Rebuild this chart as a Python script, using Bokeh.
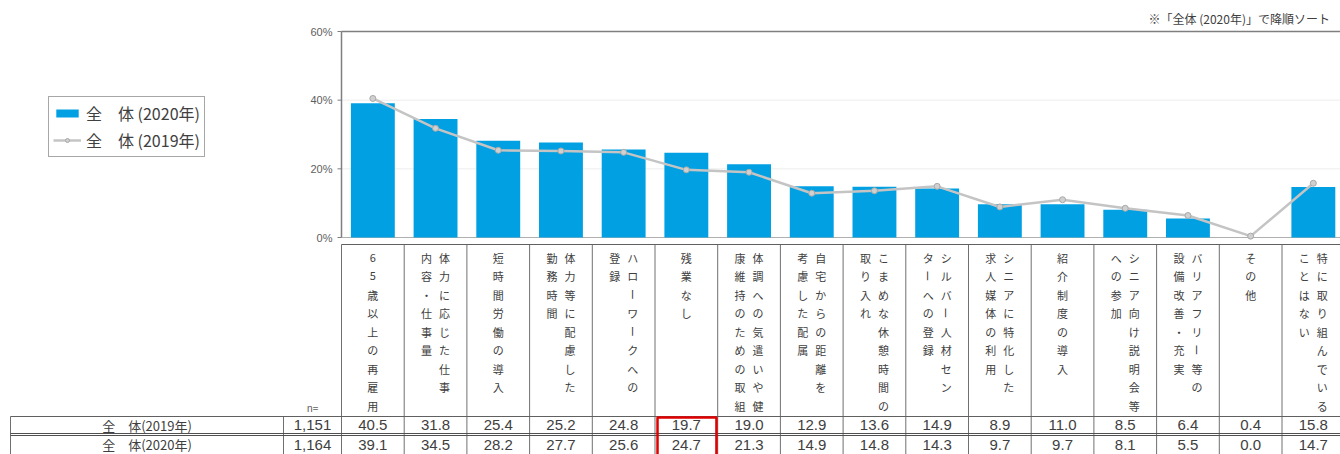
import math
from bokeh.plotting import figure
from bokeh.models import Range1d, Legend, LegendItem
from bokeh.layouts import column
from bokeh.core.properties import value
from bokeh.embed import file_html
from bokeh.resources import INLINE

# ---------------- data ----------------
categories = [
    "65歳以上の再雇用", "体力に応じた仕事内容・仕事量", "短時間労働の導入", "体力等に配慮した勤務時間",
    "ハローワークへの登録", "残業なし", "体調への気遣いや健康維持のための取組", "自宅からの距離を考慮した配属",
    "こまめな休憩時間の取り入れ", "シルバー人材センターへの登録", "シニアに特化した求人媒体の利用", "紹介制度の導入",
    "シニア向け説明会等への参加", "バリアフリー等の設備改善・充実", "その他", "特に取り組んでいることはない",
]
# vertical header text: columns read right-to-left (first entry = right column)
header_columns = [
    ["65歳以上の再雇用"],
    ["体力に応じた仕事", "内容・仕事量"],
    ["短時間労働の導入"],
    ["体力等に配慮した", "勤務時間"],
    ["ハローワークへの", "登録"],
    ["残業なし"],
    ["体調への気遣いや健", "康維持のための取組"],
    ["自宅からの距離を", "考慮した配属"],
    ["こまめな休憩時間の", "取り入れ"],
    ["シルバー人材セン", "ターへの登録"],
    ["シニアに特化した", "求人媒体の利用"],
    ["紹介制度の導入"],
    ["シニア向け説明会等", "への参加"],
    ["バリアフリー等の", "設備改善・充実"],
    ["その他"],
    ["特に取り組んでいる", "ことはない"],
]
values_2019 = [40.5, 31.8, 25.4, 25.2, 24.8, 19.7, 19.0, 12.9, 13.6, 14.9, 8.9, 11.0, 8.5, 6.4, 0.4, 15.8]
values_2020 = [39.1, 34.5, 28.2, 27.7, 25.6, 24.7, 21.3, 14.9, 14.8, 14.3, 9.7, 9.7, 8.1, 5.5, 0.0, 14.7]
n_values = ["1,151", "1,164"]
row_labels = ["全　体(2019年)", "全　体(2020年)"]
legend_labels = ["全　体 (2020年)", "全　体 (2019年)"]
y_ticks = [0, 20, 40, 60]
y_tick_labels = ["0%", "20%", "40%", "60%"]
note_text = "※「全体 (2020年)」で降順ソート"
highlight_category = "残業なし"

# ---------------- layout constants (pixels) ----------------
W = 1340
X0 = 341              # pixel of the first category boundary
COL = 62.7            # px per category
XSTART = -X0 / COL
XEND = (W - X0) / COL
H_CHART = 243
H_TABLE = 454 - H_CHART
FR_TOP, FR_BOT = 31, 237
PX_PER = (FR_BOT - FR_TOP) / (y_ticks[-1] - y_ticks[0])
Y_END = y_ticks[-1] + FR_TOP / PX_PER
Y_START = y_ticks[0] - (H_CHART - FR_BOT) / PX_PER

BLUE = "#00A0E2"
GREY_LINE = "#C4C4C4"
AXIS = "#7F7F7F"
TXT = "#404040"
JP = "Noto Sans CJK JP"

ncat = len(categories)
xs = [i + 0.5 for i in range(ncat)]

# ---------------- chart ----------------
p = figure(width=W, height=H_CHART, output_backend="svg", toolbar_location=None,
           x_range=Range1d(XSTART, XEND), y_range=Range1d(Y_START, Y_END),
           x_axis_location=None, y_axis_location=None,
           min_border_left=0, min_border_right=0, min_border_top=0, min_border_bottom=0)
p.outline_line_color = None
p.grid.visible = False

# light gridlines and frame lines
inner = y_ticks[1:-1]
p.segment(x0=[0] * len(inner), y0=inner, x1=[XEND] * len(inner), y1=inner,
          line_color="#EDEDED", line_width=1)
p.segment(x0=[0], y0=[y_ticks[0]], x1=[XEND], y1=[y_ticks[0]], line_color="#B0B0B0", line_width=1)

bars = p.vbar(x=xs, top=values_2020, width=0.7, fill_color=BLUE, line_color=None)
line = p.line(xs, values_2019, line_color=GREY_LINE, line_width=2.5)
pts = p.scatter(xs, values_2019, size=6, marker="circle", fill_color="#D0D0D0", line_color="#A8A8A8")

# y axis (line, ticks, labels) on the first category boundary
p.segment(x0=[0], y0=[y_ticks[0]], x1=[0], y1=[y_ticks[-1]], line_color=AXIS, line_width=1.5)
p.segment(x0=[0], y0=[y_ticks[-1]], x1=[XEND], y1=[y_ticks[-1]], line_color=AXIS, line_width=1.5)
p.segment(x0=[0] * len(y_ticks), y0=y_ticks, x1=[-4 / COL] * len(y_ticks), y1=y_ticks,
          line_color=AXIS, line_width=1)
p.text(x=[0] * len(y_ticks), y=y_ticks, text=y_tick_labels, x_offset=-9, text_align="right",
       text_baseline="middle", text_font=value("Liberation Sans"), text_font_size="11px",
       text_color="#606060")

# note at top right
p.text(x=[(1148 - X0) / COL], y=[y_ticks[-1] + 13 / PX_PER], text=[note_text], text_align="left",
       text_baseline="middle", text_font=value(JP), text_font_size="12px", text_color=TXT)

legend = Legend(items=[LegendItem(label=legend_labels[0], renderers=[bars]),
                       LegendItem(label=legend_labels[1], renderers=[line, pts])],
                location=(48, H_CHART - 157), orientation="vertical",
                label_text_font=JP, label_text_font_size="16px", label_text_color=TXT,
                glyph_width=28, glyph_height=10, label_height=10, spacing=3, padding=4,
                margin=0, label_standoff=5, border_line_color="#505050", border_line_width=1.5,
                background_fill_color="white", background_fill_alpha=1)
p.add_layout(legend)

# ---------------- table ----------------
t = figure(width=W, height=H_TABLE, output_backend="svg", toolbar_location=None,
           x_range=Range1d(XSTART, XEND), y_range=Range1d(H_TABLE, 0),
           x_axis_location=None, y_axis_location=None,
           min_border_left=0, min_border_right=0, min_border_top=0, min_border_bottom=0)
t.outline_line_color = None
t.grid.visible = False

def ty(page_y):
    return page_y - H_CHART

x_tab_left = (10 - X0) / COL
x_n_left = (283 - X0) / COL
y_head = ty(244)
y_row1 = ty(416)
y_dbl = [ty(433), ty(435)]
y_txt = [ty(424.5), ty(444)]
y_bottom = H_TABLE + 20

# grid lines of the table
t.segment(x0=list(range(ncat + 1)), y0=[y_head] * (ncat + 1), x1=list(range(ncat + 1)),
          y1=[y_bottom] * (ncat + 1), line_color="#707070", line_width=1)
t.segment(x0=[x_tab_left, x_n_left], y0=[y_row1] * 2, x1=[x_tab_left, x_n_left], y1=[y_bottom] * 2,
          line_color="#707070", line_width=1)
t.segment(x0=[0, x_tab_left], y0=[y_head, y_row1], x1=[XEND, XEND], y1=[y_head, y_row1],
          line_color="#606060", line_width=1.2)
t.segment(x0=[x_tab_left] * 2, y0=y_dbl, x1=[XEND] * 2, y1=y_dbl, line_color="#505050", line_width=1.2)

# vertical header text
hx, hy, ht, ha = [], [], [], []
step = 18.5
offset = 9 / COL
for i, cols in enumerate(header_columns):
    nc = len(cols)
    for j, col_text in enumerate(cols):
        cx = i + 0.5 if nc == 1 else i + 0.5 + offset - j * 2 * offset
        for k, ch in enumerate(col_text):
            hx.append(cx)
            hy.append(ty(257) + k * step)
            ht.append(ch)
            ha.append(-math.pi / 2 if ch == "ー" else 0.0)
t.text(x=hx, y=hy, text=ht, angle=ha, text_align="center", text_baseline="middle",
       text_font=value(JP), text_font_size="11px", text_color=TXT)

# values
for r, vals in enumerate([values_2019, values_2020]):
    t.text(x=xs, y=[y_txt[r]] * ncat, text=[f"{v:.1f}" for v in vals], text_align="center",
           text_baseline="middle", text_font=value("Liberation Sans"), text_font_size="15px",
           text_color=TXT)
lab_x = (x_tab_left + x_n_left) / 2
n_x = x_n_left / 2
t.text(x=[lab_x] * 2, y=y_txt, text=row_labels, text_align="center", text_baseline="middle",
       text_font=value(JP), text_font_size="13px", text_color=TXT)
t.text(x=[n_x] * 2, y=y_txt, text=n_values, text_align="center", text_baseline="middle",
       text_font=value("Liberation Sans"), text_font_size="15px", text_color=TXT)
t.text(x=[n_x], y=[ty(407)], text=["n="], text_align="center", text_baseline="middle",
       text_font=value(JP), text_font_size="10px", text_color="#606060")

# highlight box
hi = categories.index(highlight_category)
t.quad(left=[hi + 0.04], right=[hi + 0.98], top=[y_row1 + 1], bottom=[y_bottom],
       fill_color=None, line_color="#E00000", line_width=2.5)

layout = column(p, t, spacing=0)
open("out.html", "w").write(file_html(layout, INLINE))
